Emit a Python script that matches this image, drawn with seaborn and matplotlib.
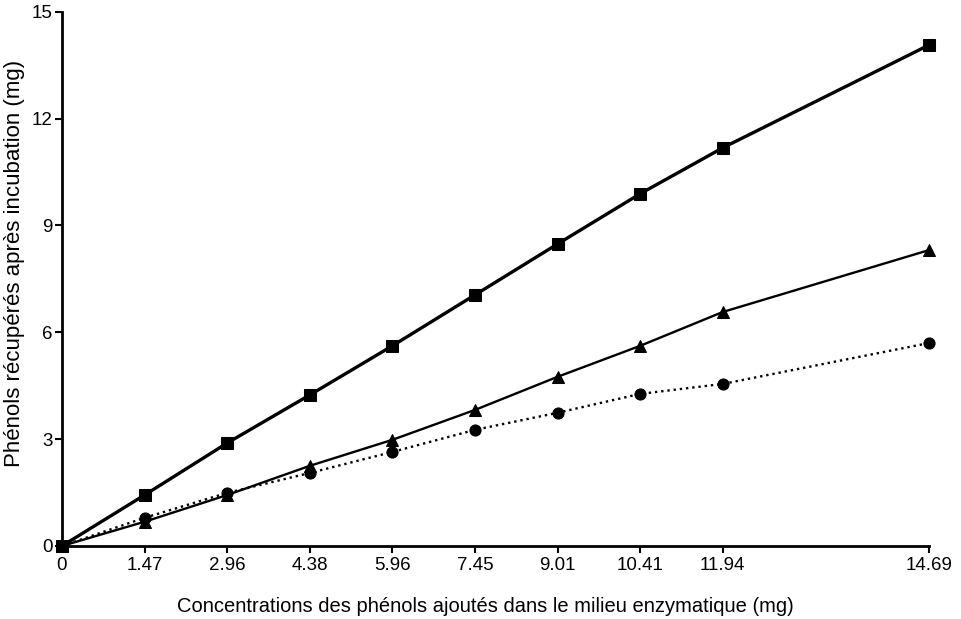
import matplotlib
matplotlib.use("Agg")
import matplotlib.pyplot as plt
import seaborn as sns

# x tick labels (mg of phenols added) and where they sit on the axis
x_labels = ["0", "1.47", "2.96", "4.38", "5.96", "7.45", "9.01", "10.41", "11.94", "14.69"]
x_pos = [0, 1, 2, 3, 4, 5, 6, 7, 8, 10.5]

# recovered phenols (mg)
squares = [0, 1.43, 2.89, 4.24, 5.62, 7.05, 8.48, 9.89, 11.18, 14.07]
triangles = [0, 0.68, 1.43, 2.25, 2.98, 3.82, 4.75, 5.62, 6.57, 8.31]
circles = [0, 0.79, 1.49, 2.05, 2.64, 3.26, 3.74, 4.27, 4.55, 5.70]

sns.set_style("ticks")
plt.rcParams["font.family"] = ["Liberation Sans", "DejaVu Sans"]
plt.rcParams["text.color"] = "black"
plt.rcParams["axes.labelcolor"] = "black"
plt.rcParams["xtick.color"] = "black"
plt.rcParams["ytick.color"] = "black"

fig = plt.figure(figsize=(9.61, 6.19), dpi=100)
ax = fig.add_axes([0.0645, 0.118, 0.9025, 0.863])

sns.lineplot(x=x_pos, y=circles, ax=ax, color="black", linestyle=":", linewidth=1.7,
             marker="o", markersize=8, markeredgecolor="black", clip_on=False)
sns.lineplot(x=x_pos, y=triangles, ax=ax, color="black", linestyle="-", linewidth=1.7,
             marker="^", markersize=8, markeredgecolor="black", clip_on=False)
sns.lineplot(x=x_pos, y=squares, ax=ax, color="black", linestyle="-", linewidth=2.4,
             marker="s", markersize=8, markeredgecolor="black", clip_on=False)

ax.set_xlim(0, 10.5)
ax.set_ylim(0, 15)
ax.set_xticks(x_pos)
ax.set_xticklabels(x_labels)
ax.set_yticks([0, 3, 6, 9, 12, 15])
ax.tick_params(axis="both", labelsize=13.5, width=1.5, length=5, color="black", pad=2)
ax.tick_params(axis="x", pad=3)
for s in ["left", "bottom"]:
    ax.spines[s].set_linewidth(2)
    ax.spines[s].set_color("black")
sns.despine(ax=ax)

ax.set_xlabel("Concentrations des phénols ajoutés dans le milieu enzymatique (mg)", fontsize=14.5)
ax.set_ylabel("Phénols récupérés après incubation (mg)", fontsize=16)
ax.xaxis.set_label_coords(0.488, -0.095)
ax.yaxis.set_label_coords(-0.043, 0.528)

fig.savefig("out.png", dpi=100)
